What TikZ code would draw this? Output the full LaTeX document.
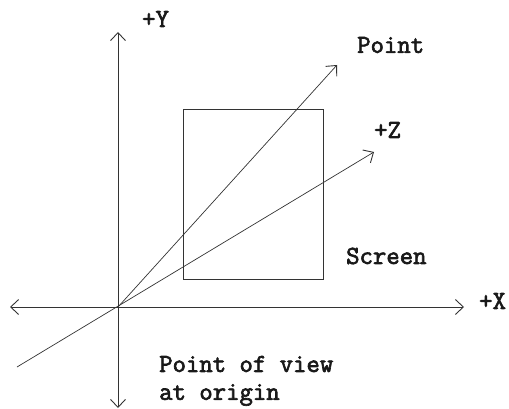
\documentclass[tikz,border=0pt]{standalone}
\usepackage{fontspec}
\newfontfamily\lblfont[FakeBold=2.5]{Latin Modern Mono}
\usetikzlibrary{arrows.meta}
\begin{document}
\begin{tikzpicture}[x=1pt,y=1pt,
  axis/.style={draw=black!80,line width=0.9pt,-{Straight Barb[length=8pt,width=15pt,line width=0.9pt]}},
  lbl/.style={font=\lblfont\fontsize{26}{30}\selectfont,text=black!90,inner sep=0pt,anchor=west}]
\useasboundingbox (0,0) rectangle (509,-409);
\coordinate (O) at (118,-307);
\coordinate (Ytop) at (118,-32);
\coordinate (Ybot) at (118,-408);
\coordinate (Xl) at (10,-307);
\coordinate (Xr) at (464,-307);
\coordinate (Zs) at (17,-367);
\coordinate (Zt) at (374,-152);
\coordinate (Pt) at (337,-65);
\draw[axis] (O) -- (Ytop);
\draw[axis] (O) -- (Ybot);
\draw[axis] (O) -- (Xl);
\draw[axis] (O) -- (Xr);
\draw[axis,line width=0.7pt] (Zs) -- (Zt);
\draw[axis,line width=0.7pt] (O) -- (Pt);
\node[draw=black!80,line width=0.9pt,minimum width=140pt,minimum height=170pt,inner sep=0pt,anchor=north west] (screen) at (183,-109) {};
\node[lbl] (ylab) at (142,-19) {+Y};
\node[lbl] (plab) at (357,-45) {Point};
\node[lbl] (zlab) at (374,-130) {+Z};
\node[lbl] (xlab) at (479,-301) {+X};
\node[lbl] (slab) at (346,-256) {Screen};
\node[lbl] (v1) at (159,-364) {Point of view};
\node[lbl] (v2) at (159,-395) {at origin};
\end{tikzpicture}
\end{document}
